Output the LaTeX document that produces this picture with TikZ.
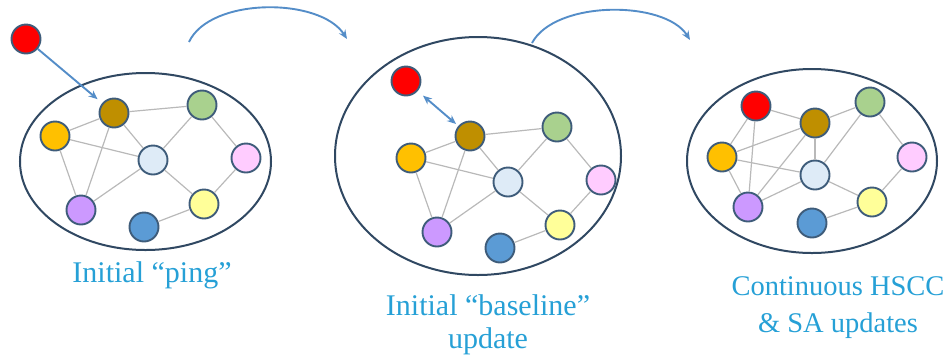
\documentclass[tikz,border=0pt]{standalone}
\usepackage{fontspec}
\setmainfont{Liberation Serif}
\usetikzlibrary{arrows.meta}

\definecolor{capblue}{RGB}{38,160,214}
\definecolor{flowblue}{RGB}{84,141,200}
\definecolor{rimcol}{RGB}{48,72,98}
\definecolor{dotrim}{RGB}{62,92,122}
\definecolor{linkgray}{RGB}{185,185,185}
\definecolor{cRed}{RGB}{255,0,0}
\definecolor{cBrown}{RGB}{191,143,0}
\definecolor{cGreen}{RGB}{169,209,142}
\definecolor{cOrange}{RGB}{255,192,0}
\definecolor{cIce}{RGB}{222,235,247}
\definecolor{cPink}{RGB}{255,204,255}
\definecolor{cYellow}{RGB}{255,255,153}
\definecolor{cViolet}{RGB}{204,153,255}
\definecolor{cBlue}{RGB}{91,155,213}

\tikzset{
  dot/.style={circle, draw=dotrim, line width=1.9pt, minimum size=29pt, inner sep=0pt, fill=#1},
  group/.style={draw=rimcol, line width=2pt},
  link/.style={draw=linkgray, line width=1.2pt},
  flow/.style={draw=flowblue, line width=1.9pt, -{Stealth[length=9pt,width=7.5pt]}},
  caption/.style={text=capblue, font=\fontsize{30}{33}\selectfont, align=center, anchor=base},
}

\begin{document}
\begin{tikzpicture}[x=1pt,y=-1pt]
\useasboundingbox (0,0) rectangle (943,360);

% ---------- panel 1: initial ping ----------
\draw[group] (145.5,161.5) ellipse [x radius=125.5, y radius=88.5];
\node[dot=cRed]    (aR) at (26,39) {};
\node[dot=cBrown]  (aB) at (114,113) {};
\node[dot=cGreen]  (aG) at (202,105) {};
\node[dot=cOrange] (aO) at (55,136) {};
\node[dot=cIce]    (aI) at (153,160) {};
\node[dot=cPink]   (aP) at (246,158) {};
\node[dot=cYellow] (aY) at (204,204) {};
\node[dot=cViolet] (aV) at (81,210) {};
\node[dot=cBlue]   (aU) at (144,227) {};
\foreach \u/\v in {aB/aG,aB/aO,aB/aI,aB/aV,aO/aI,aO/aV,aI/aG,aI/aV,aI/aY,aG/aP,aP/aY,aY/aU}
  \draw[link] (\u) -- (\v);
\draw[flow, shorten >=6pt] (aR) -- (aB);
\node[caption] (capA) at (152,282) {Initial “ping”};

% ---------- panel 2: initial baseline update ----------
\draw[group] (478,156) ellipse [x radius=143, y radius=119];
\node[dot=cRed]    (bR) at (406,81) {};
\node[dot=cBrown]  (bB) at (470,136) {};
\node[dot=cGreen]  (bG) at (557,127) {};
\node[dot=cOrange] (bO) at (411,158) {};
\node[dot=cIce]    (bI) at (508,182) {};
\node[dot=cPink]   (bP) at (601,180) {};
\node[dot=cYellow] (bY) at (560,225) {};
\node[dot=cViolet] (bV) at (437,232) {};
\node[dot=cBlue]   (bU) at (500,248) {};
\foreach \u/\v in {bB/bG,bB/bO,bB/bI,bB/bV,bO/bI,bO/bV,bI/bG,bI/bV,bI/bY,bG/bP,bP/bY,bY/bU}
  \draw[link] (\u) -- (\v);
\draw[flow, {Stealth[length=9pt,width=7.5pt]}-{Stealth[length=9pt,width=7.5pt]}, shorten <=7pt, shorten >=3pt] (bR) -- (bB);
\node[caption] (capB) at (488,348) {Initial “baseline”\\update};

% ---------- panel 3: continuous updates ----------
\draw[group] (812,161) ellipse [x radius=125, y radius=92];
\node[dot=cRed]    (cR) at (756,106) {};
\node[dot=cBrown]  (cB) at (815,123) {};
\node[dot=cGreen]  (cG) at (870,102) {};
\node[dot=cOrange] (cO) at (722,157) {};
\node[dot=cIce]    (cI) at (815,175) {};
\node[dot=cPink]   (cP) at (912,157) {};
\node[dot=cYellow] (cY) at (872,202) {};
\node[dot=cViolet] (cV) at (748,207) {};
\node[dot=cBlue]   (cU) at (812,223) {};
\foreach \u/\v in {cR/cB,cR/cO,cR/cV,cB/cG,cB/cO,cB/cI,cB/cV,cO/cI,cO/cV,cI/cG,cI/cV,cI/cY,cG/cP,cP/cY,cY/cU}
  \draw[link] (\u) -- (\v);
\node[caption, font=\fontsize{28.5}{37}\selectfont] (capC) at (838,332) {Continuous HSCC\\\& SA updates};

% ---------- progression arrows ----------
\coordinate (s1) at (189,42);
\coordinate (e1) at (347,39);
\coordinate (s2) at (532,43);
\coordinate (e2) at (690,40);
\draw[flow] (s1) .. controls (210,-3) and (320,-3) .. (e1);
\draw[flow] (s2) .. controls (555,0) and (665,0) .. (e2);
\end{tikzpicture}
\end{document}
